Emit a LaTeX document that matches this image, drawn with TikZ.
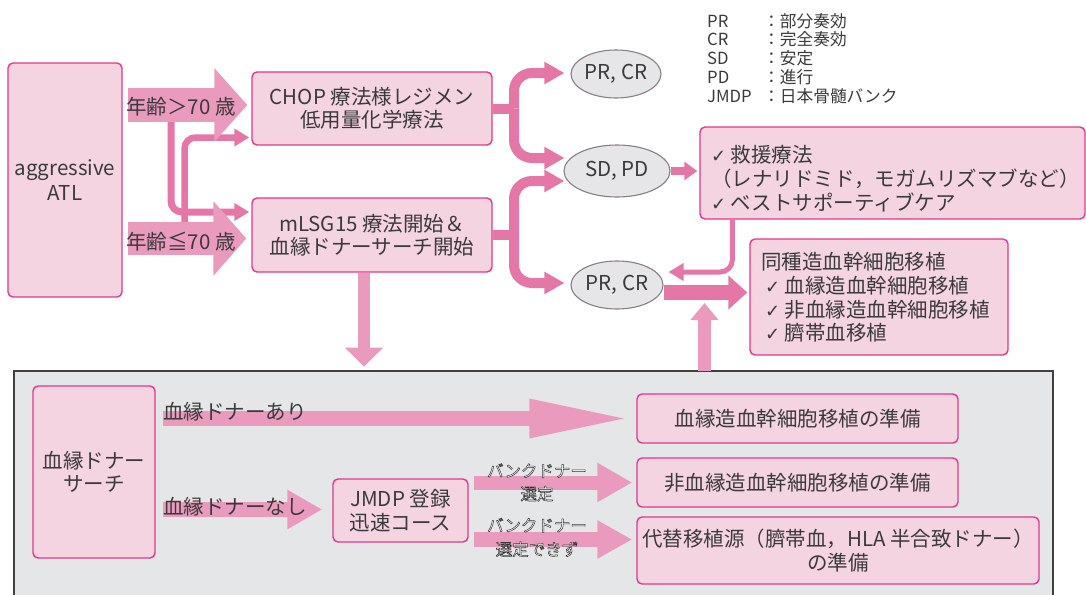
\documentclass[tikz,border=0pt]{standalone}
\usepackage{fontspec}
\setmainfont{Noto Sans CJK JP}
\newfontfamily\checkfont{DejaVu Sans}
\usetikzlibrary{arrows.meta,shapes.geometric}

\definecolor{boxfill}{HTML}{F4D4E1}
\definecolor{boxline}{HTML}{E2388B}
\definecolor{lightarrow}{HTML}{EA9BBD}
\definecolor{darkarrow}{HTML}{E477A6}
\definecolor{ovalfill}{HTML}{E6E6E8}
\definecolor{ovalline}{HTML}{8A7D83}
\definecolor{panelfill}{HTML}{E5E6E8}
\definecolor{panelline}{HTML}{404040}
\definecolor{inkgray}{HTML}{3A3A3A}

\newcommand\ck{{\checkfont\fontsize{18}{18}\selectfont ✓}}
\newcommand\outlined[1]{{\color{white}\special{pdf:literal direct 0.2 0.2 0.2 RG 0.5 w 2 Tr}#1\special{pdf:literal direct 0 Tr}}}

\begin{document}
\begin{tikzpicture}[x=1pt, y=-1pt,
			font=\fontsize{20.5}{23.5}\selectfont, text=inkgray,
			box/.style={draw=boxline, line width=1.4pt, fill=boxfill, rounded corners=5pt, align=center, inner sep=0pt},
			oval/.style={ellipse, draw=ovalline, line width=1.1pt, fill=ovalfill, inner sep=0pt},
			block/.style={color=lightarrow, line width=#1},
			link/.style={color=darkarrow, line width=#1, rounded corners=18pt},
		]
		\path[use as bounding box] (0,0) rectangle (1086,594);
		\draw[panelline, fill=panelfill, line width=1.5pt] (14,371) rectangle (1053,610);

		% upper half
		\node[box, minimum width=114pt, minimum height=234pt, font=\fontsize{20.5}{25}\selectfont] (atl) at (65,180) {aggressive\\ATL};
		\node[box, minimum width=240pt, minimum height=73pt] (chop) at (372,108.5) {CHOP 療法様レジメン\\低用量化学療法};
		\node[box, minimum width=240pt, minimum height=74pt] (mlsg) at (372,235) {mLSG15 療法開始＆\\血縁ドナーサーチ開始};
		\node[oval, minimum width=90pt, minimum height=48pt] (prtop) at (616,74) {PR, CR};
		\node[oval, minimum width=106pt, minimum height=52pt] (sdpd) at (617,171) {SD, PD};
		\node[oval, minimum width=92pt, minimum height=48pt] (prlow) at (617,285) {PR, CR};
		\node[anchor=north west, align=left, inner sep=0pt, font=\fontsize{16.7}{18.7}\selectfont] (legend) at (707,13)
			{\makebox[56pt][l]{PR}：部分奏効\\\makebox[56pt][l]{CR}：完全奏効\\\makebox[56pt][l]{SD}：安定\\\makebox[56pt][l]{PD}：進行\\\makebox[56pt][l]{JMDP}：日本骨髄バンク};
		\node[box, minimum width=385pt, minimum height=92pt] (rescue) at (892.5,173) {};
		\node[anchor=west, align=left, inner sep=0pt, font=\fontsize{20.5}{24}\selectfont] (rescuetext) at (711,179)
			{\ck\ 救援療法\\（レナリドミド，モガムリズマブなど）\\\ck\ ベストサポーティブケア};
		\node[box, minimum width=258pt, minimum height=116pt] (sct) at (879,297) {};
		\node[anchor=west, align=left, inner sep=0pt, font=\fontsize{20.5}{23.7}\selectfont] (scttext) at (761,297.5)
			{同種造血幹細胞移植\\\hspace*{4pt}\ck\ 血縁造血幹細胞移植\\\hspace*{4pt}\ck\ 非血縁造血幹細胞移植\\\hspace*{4pt}\ck\ 臍帯血移植};

		\draw[link=7pt, rounded corners=11pt, -{Triangle[length=15pt,width=17pt]}] (171,115) |- ([xshift=-2pt]mlsg.west |- 0,212);
		\draw[link=6.5pt, rounded corners=11pt, -{Triangle[length=15pt,width=17pt]}] (184.5,230) |- ([xshift=-2pt]chop.west |- 0,137.5);
		\draw[block=34pt, -{Triangle[length=33pt,width=72pt]}] ([xshift=5pt]atl.east |- 0,105) -- ([xshift=-4pt]chop.west |- 0,105);
		\node[anchor=west, inner sep=0pt] (older) at (126,107) {年齢＞70 歳};
		\draw[block=33pt, -{Triangle[length=33pt,width=73pt]}] ([xshift=5pt]atl.east |- 0,238.5) -- ([xshift=-5pt]mlsg.west |- 0,238.5);
		\node[anchor=west, inner sep=0pt] (younger) at (126,242) {年齢≦70 歳};

		\draw[link=10pt] (chop.east) -- (514,108.5);
		\draw[link=10pt, -{Triangle[length=20pt,width=21pt]}] (514,108.5) |- ([xshift=-6pt]prtop.west |- 0,73);
		\draw[link=10pt, -{Triangle[length=20pt,width=21pt]}] (514,108.5) |- ([xshift=1pt]sdpd.west |- 0,158);
		\draw[link=10pt] (mlsg.east) -- (514,235);
		\draw[link=10pt, -{Triangle[length=20pt,width=21pt]}] (514,235) |- ([xshift=1pt]sdpd.west |- 0,181);
		\draw[link=10pt, -{Triangle[length=20pt,width=21pt]}] (514,235) |- ([xshift=-6pt]prlow.west |- 0,283);
		\draw[link=8pt, -{Triangle[length=13pt,width=18pt]}] (sdpd.east) -- ([xshift=-2pt]rescue.west |- sdpd.east);
		\draw[link=5pt, rounded corners=12pt, -{Triangle[length=15pt,width=17pt]}] ([xshift=33pt]rescue.south west) |- ([xshift=5pt,yshift=13pt]prlow.east);
		\draw[link=15pt, -{Triangle[length=19pt,width=33pt]}] ([yshift=-7.5pt]prlow.east) -- ([xshift=-2pt]sct.west |- 0,292.5);
		\draw[block=12pt, -{Triangle[length=19pt,width=37pt]}] ([xshift=-8pt]mlsg.south) -- ++(0,94);
		\draw[block=13pt, -{Triangle[length=17pt,width=27pt]}] (704.5,371) -- (704.5,303);

		% donor search
		\node[box, minimum width=122pt, minimum height=172pt] (donor) at (94,472) {血縁ドナー\\サーチ};
		\node[box, minimum width=135pt, minimum height=63pt] (jmdp) at (400.5,510.5) {JMDP 登録\\迅速コース};
		\node[box, minimum width=321pt, minimum height=49pt] (related) at (797.5,418.5) {血縁造血幹細胞移植の準備};
		\node[box, minimum width=321pt, minimum height=49pt] (unrelated) at (797.5,482.5) {非血縁造血幹細胞移植の準備};
		\node[box, minimum width=402pt, minimum height=67pt] (alternative) at (838,550.5) {代替移植源（臍帯血，HLA 半合致ドナー）\\の準備};

		\draw[block=15pt, -{Triangle[length=103pt,width=35pt]}] ([xshift=7pt]donor.east |- related.west) -- ([xshift=-4pt]related.west);
		\node[anchor=west, inner sep=0pt] (withdonor) at (163,412) {血縁ドナーあり};
		\draw[block=15pt, -{Triangle[length=35pt,width=37pt]}] ([xshift=7pt]donor.east |- 0,509.5) -- ([xshift=-10pt]jmdp.west |- 0,509.5);
		\node[anchor=west, inner sep=0pt] (nodonor) at (163,507) {血縁ドナーなし};
		\draw[block=14pt, -{Triangle[length=35pt,width=37pt]}] ([xshift=5pt]jmdp.east |- unrelated.west) -- ([xshift=-4pt]unrelated.west);
		\draw[block=15pt, -{Triangle[length=35pt,width=36pt]}] ([xshift=5pt]jmdp.east |- 0,539.5) -- ([xshift=-4pt]alternative.west |- 0,539.5);
		\node[align=center, inner sep=0pt, font=\fontsize{16.5}{23}\selectfont] (banksel) at (537,482.5) {\outlined{バンクドナー}\\\outlined{選定}};
		\node[align=center, inner sep=0pt, font=\fontsize{16.5}{24}\selectfont] (banknone) at (537,537.5) {\outlined{バンクドナー}\\\outlined{選定できず}};
	\end{tikzpicture}
\end{document}
